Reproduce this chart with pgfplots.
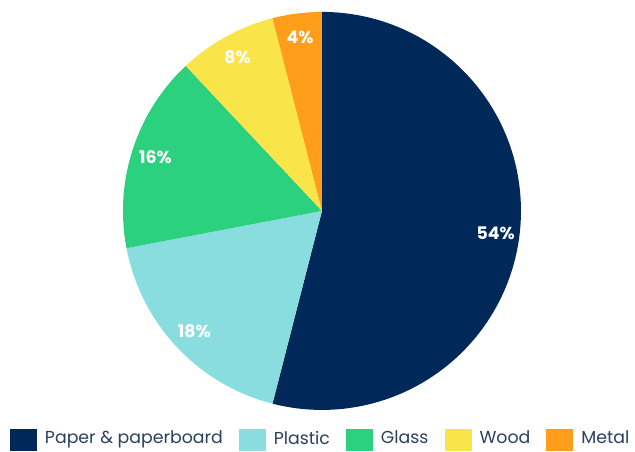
\documentclass[border=0pt]{standalone}
\usepackage{pgfplots}
\pgfplotsset{compat=1.18}
\usepackage{fontspec}
\setmainfont{Poppins}
\definecolor{cPaper}{HTML}{00295A}
\definecolor{cPlastic}{HTML}{8ADDDF}
\definecolor{cGlass}{HTML}{2CD17F}
\definecolor{cWood}{HTML}{F9E44A}
\definecolor{cMetal}{HTML}{FF9E1B}
\definecolor{cText}{HTML}{2B3F5F}
% #1 cumulative start (%), #2 share (%), #3 colour
\newcommand\slice[3]{%
  \fill[#3] (axis cs:0,0) -- (axis cs:{cos(90-3.6*#1)},{sin(90-3.6*#1)})
     arc[start angle={90-3.6*#1}, end angle={90-3.6*(#1+#2)}, radius=149.25pt] -- cycle;
}
\newcommand\slicelabel[2]{%
  \node[text=white, font=\fontsize{13}{15}\selectfont\bfseries]
     at (axis cs:{0.88*cos(90-3.6*(#1+#2/2))},{0.88*sin(90-3.6*(#1+#2/2))}) {#2\%};
}
\begin{document}
\begin{tikzpicture}
\begin{axis}[
  hide axis, clip=false,
  x=149.25pt, y=149.25pt,
  xmin=-1.618, xmax=1.573, ymin=-1.211, ymax=1.060,
  legend columns=5,
  legend image code/.code={\fill[#1] (0pt,-9pt) rectangle (20.25pt,7pt);},
  legend style={at={(rel axis cs:0,0)}, xshift=7.5pt, yshift=1.0pt, anchor=south west,
    draw=none, fill=none, inner sep=0pt, outer sep=0pt,
    font=\fontsize{13}{15}\selectfont\color{cText},
    nodes={inner sep=0pt},
    /tikz/every odd column/.append style={column sep=6pt},
    /tikz/every even column/.append style={column sep=12pt}},
]
\coordinate (ll) at (rel axis cs:0,0);
\coordinate (ur) at (rel axis cs:1,1);
\slice{0}{54}{cPaper}
\slice{54}{18}{cPlastic}
\slice{72}{16}{cGlass}
\slice{88}{8}{cWood}
\slice{96}{4}{cMetal}
\slicelabel{0}{54}
\slicelabel{54}{18}
\slicelabel{72}{16}
\slicelabel{88}{8}
\slicelabel{96}{4}
\addlegendimage{fill=cPaper, draw=none}\addlegendentry{Paper \& paperboard}
\addlegendimage{fill=cPlastic, draw=none}\addlegendentry{Plastic}
\addlegendimage{fill=cGlass, draw=none}\addlegendentry{Glass}
\addlegendimage{fill=cWood, draw=none}\addlegendentry{Wood}
\addlegendimage{fill=cMetal, draw=none}\addlegendentry{Metal}
\end{axis}
\pgfresetboundingbox
\useasboundingbox (ll) rectangle (ur);
\end{tikzpicture}
\end{document}
